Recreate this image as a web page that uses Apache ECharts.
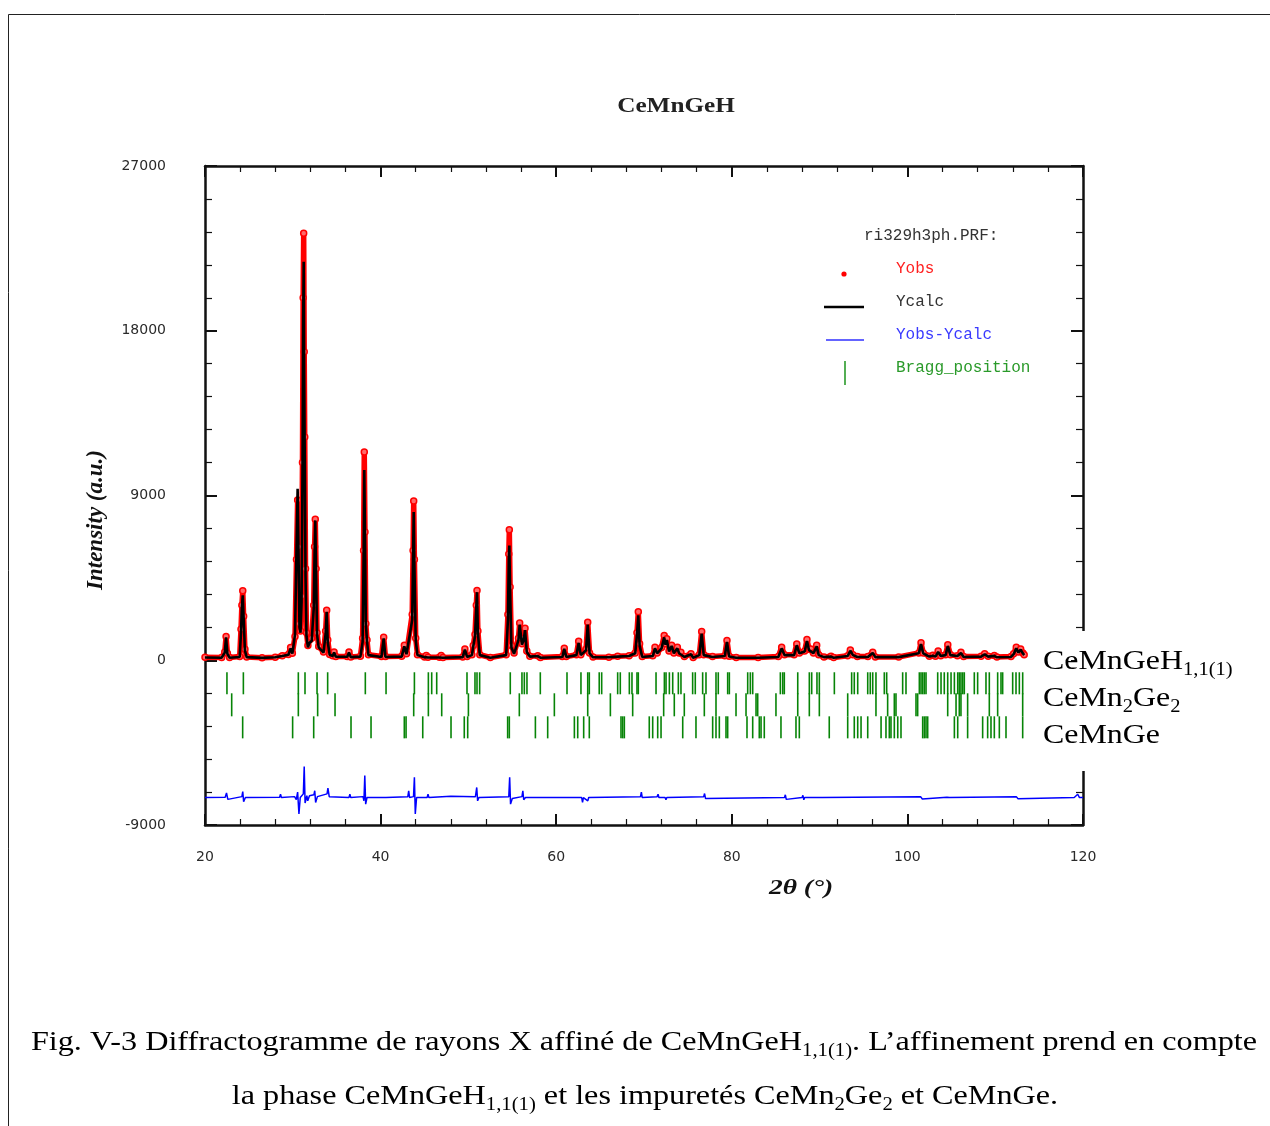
<!DOCTYPE html>
<html><head><meta charset="utf-8">
<script src="https://cdn.jsdelivr.net/npm/echarts@6/dist/echarts.min.js"></script>
<style>html,body{margin:0;padding:0;background:#fff}#chart{width:1270px;height:1126px}</style>
</head><body><div id="chart"></div>
<script>
// ---------- DATA ----------
const xTicks = [20, 40, 60, 80, 100, 120];
const yTicks = [-9000, 0, 9000, 18000, 27000];

// Profile sample points (2θ) with observed and calculated intensities
const twoTheta = [
  20.0,21.9,22.25,22.4,22.55,22.8,23.95,24.1,24.2,24.3,24.4,24.55,24.75,
  26.5,28.0,28.8,29.5,29.75,29.95,30.25,30.42,30.55,30.65,30.76,30.88,
  31.0,31.1,31.18,31.24,31.3,31.36,31.45,31.56,31.72,31.9,32.15,32.38,32.48,32.56,32.65,32.76,32.95,
  33.5,33.74,33.86,33.98,34.2,34.55,34.7,34.9,36.2,36.4,36.6,37.7,37.95,38.06,38.14,38.22,38.32,38.45,38.62,40.1,40.35,40.55,
  42.4,42.7,42.95,43.6,43.7,43.77,43.85,44.0,44.2,45.0,45.2,45.4,46.7,46.9,47.1,
  49.35,49.6,49.85,50.4,50.55,50.75,50.9,50.98,51.08,51.3,52.5,54.3,54.5,54.6,54.66,54.75,54.9,55.2,55.7,55.84,56.1,56.3,56.45,56.65,57.0,57.9,58.2,
  60.7,60.92,61.15,62.3,62.56,62.8,63.4,63.59,63.8,64.2,66.0,67.0,68.3,69.0,69.2,69.35,69.5,69.8,
  71.0,71.25,71.5,72.0,72.3,72.45,72.6,72.85,73.15,73.4,73.8,74.0,74.2,74.6,75.35,75.6,76.3,76.57,76.8,77.8,79.2,79.45,79.7,80.5,
  83.0,85.3,85.68,86.0,87.1,87.4,87.7,88.3,88.56,88.8,89.0,89.3,89.67,89.9,90.5,91.3,91.6,93.2,93.5,93.8,94.3,95.5,96.05,96.35,
  99.0,101.3,101.55,101.8,102.5,102.9,103.2,103.5,103.8,104.35,104.6,104.9,105.7,106.1,106.4,108.4,108.8,109.2,109.9,110.2,111.8,112.1,112.4,112.65,112.9,113.15,113.3
];
const yObs = [
  160,150,450,1300,380,150,200,1700,3000,3800,2400,600,180,
  140,170,250,320,700,380,1300,5500,8750,6200,2000,1600,
  3500,10800,19800,23320,16850,12200,5000,1500,800,1100,1200,3000,6200,7700,5000,1500,750,
  450,1600,2730,1100,320,250,450,200,200,450,180,220,1200,6000,11380,7000,2000,1100,300,200,1260,200,
  220,820,350,2500,6000,8700,5500,1200,300,180,260,160,160,260,150,
  180,620,200,300,800,1400,3000,3810,1600,300,150,300,2500,5800,7130,4000,800,400,1200,2040,900,1200,1750,500,220,250,150,
  200,660,200,300,1040,300,600,2080,400,180,170,220,250,400,1500,2650,900,200,
  250,710,400,700,1350,900,1170,500,820,400,710,400,440,200,350,150,300,1570,300,200,250,1080,220,150,
  150,200,710,300,300,890,400,500,1130,600,620,400,820,300,180,220,150,250,560,300,200,200,440,180,
  180,400,950,400,220,270,220,500,250,300,840,300,250,440,200,220,350,220,260,180,200,350,710,450,620,400,300
];
const yCalc = [
  150,140,420,1250,350,140,180,1500,2900,3550,2300,520,170,
  130,160,230,300,650,360,1400,6000,9370,5900,1800,1500,
  3200,10000,18500,21770,15600,11200,4600,1300,700,950,1050,2800,5800,7640,4800,1400,700,
  420,1450,2650,1000,300,230,420,190,190,420,170,200,1000,5500,10390,6800,2000,1050,280,180,1200,180,
  200,760,330,2200,5800,8100,5200,1100,280,170,240,150,150,240,140,
  170,580,180,280,750,1300,2900,3720,1500,280,140,280,2200,5500,6270,3800,700,350,1100,1950,850,1100,1650,450,200,230,140,
  180,620,180,280,950,280,550,1950,380,160,160,200,230,380,1400,2460,800,180,
  230,650,380,650,1250,850,1100,480,780,380,650,380,400,180,330,140,280,1450,280,180,230,1000,200,140,
  140,180,650,280,280,820,380,480,1050,550,580,380,760,280,170,200,140,230,520,280,180,180,400,170,
  170,380,880,380,200,250,200,460,230,280,780,280,230,400,180,200,330,200,240,160,180,330,650,420,580,380,280
];

// Difference curve (Yobs-Ycalc, drawn with the plot's offset)
const diffTheta = [
  20.0,22.3,22.45,22.6,22.8,24.2,24.3,24.4,24.6,28.5,28.6,28.7,30.2,30.4,30.55,30.7,30.85,31.2,31.3,31.4,31.6,31.7,31.9,
  32.4,32.5,32.6,32.8,33.9,34.0,34.15,34.3,36.4,36.5,36.6,38.0,38.1,38.2,38.3,38.45,40.6,40.7,40.8,
  43.1,43.2,43.3,43.75,43.85,43.95,44.1,45.3,45.4,45.5,48.0,48.1,50.8,50.95,51.05,51.2,
  54.6,54.7,54.8,55.0,56.1,56.2,56.3,56.5,62.9,63.0,63.1,63.6,63.7,69.6,69.7,69.8,71.5,71.6,71.7,72.4,72.5,72.6,
  76.8,76.9,77.0,77.2,86.0,86.1,86.2,86.3,88.0,88.1,88.2,88.3,90.0,90.1,90.2,90.3,
  101.5,101.6,101.7,101.8,104.5,104.6,104.7,104.8,112.4,112.5,112.6,112.7,119.0,119.4,119.6,120.0
];
const diffValues = [
  -7500,-7480,-7250,-7600,-7500,-7450,-7180,-7730,-7500,-7480,-7320,-7500,-7450,-7620,-7200,-8400,-7500,-7300,-5800,-7800,-7400,-7680,-7400,
  -7350,-7130,-7770,-7450,-7300,-6990,-7450,-7500,-7500,-7320,-7500,-7450,-7680,-6300,-7860,-7500,-7500,-7400,-7500,
  -7450,-7130,-7500,-7450,-6390,-8400,-7500,-7500,-7320,-7500,-7430,-7500,-7450,-6950,-7680,-7500,
  -7450,-6390,-7860,-7550,-7450,-7130,-7620,-7500,-7500,-7770,-7500,-7680,-7500,-7450,-7200,-7500,-7450,-7320,-7500,-7500,-7620,-7500,
  -7450,-7280,-7550,-7500,-7500,-7350,-7600,-7500,-7500,-7380,-7620,-7500,-7500,-7400,-7580,-7500,
  -7450,-7380,-7580,-7500,-7480,-7400,-7560,-7500,-7450,-7380,-7560,-7500,-7500,-7320,-7500,-7500
];

// Bragg reflection positions (2θ) for the three phases
const braggCeMnGeH = [
  22.5,24.37,30.63,31.39,32.76,33.97,38.26,40.62,43.85,45.44,45.82,46.39,49.84,50.75,50.98,51.28,54.77,56.1,56.37,56.67,
  58.19,61.23,62.82,63.59,63.77,64.9,65.18,67.0,67.3,68.33,68.63,69.2,69.35,71.37,72.32,72.51,72.89,73.27,73.91,74.21,
  75.54,75.84,76.68,77.06,78.2,78.46,79.53,79.72,81.81,82.11,82.38,85.53,85.8,85.98,87.51,88.83,89.1,89.7,89.97,91.68,
  93.65,93.95,94.34,95.48,95.77,96.05,96.42,97.37,97.64,99.46,99.84,101.36,101.55,101.74,101.93,102.12,103.45,103.83,
  104.2,104.59,104.97,105.35,105.73,105.91,106.1,106.3,106.48,107.62,108.0,108.95,109.33,110.28,110.66,110.85,111.99,
  112.37,112.75,113.13
];
const braggCeMn2Ge2 = [
  23.04,30.63,32.83,34.81,43.77,45.44,46.96,50.0,55.8,59.79,63.59,66.17,68.71,72.24,73.45,74.59,76.87,78.2,80.48,81.62,
  82.76,82.95,85.03,87.51,88.83,89.97,93.2,96.42,97.75,98.51,98.7,100.98,101.17,104.59,105.54,105.91,106.1,106.86,
  109.33,110.28,113.13
];
const braggCeMnGe = [
  24.29,29.98,32.38,36.63,38.91,42.7,42.9,44.8,48.02,49.53,49.92,54.47,54.66,57.63,59.03,62.07,62.45,63.13,63.77,
  67.38,67.57,67.76,70.6,70.99,71.56,71.94,74.41,75.92,77.82,78.2,78.58,79.34,79.53,81.73,82.38,83.13,83.33,83.7,
  85.6,87.31,87.69,91.1,93.2,93.95,94.34,94.72,95.48,97.0,97.56,97.94,98.13,98.51,98.9,99.27,101.74,101.93,102.12,
  102.31,105.35,105.73,106.86,108.57,109.14,109.52,109.9,110.47,111.23,113.13
];

// ---------- BUILD ----------
if (twoTheta.length !== yObs.length || twoTheta.length !== yCalc.length) console.error('profile length mismatch', twoTheta.length, yObs.length, yCalc.length);
if (diffTheta.length !== diffValues.length) console.error('diff length mismatch', diffTheta.length, diffValues.length);

const obsData = twoTheta.map((x, i) => [x, yObs[i]]);
const calcData = twoTheta.map((x, i) => [x, yCalc[i]]);
const diffData = diffTheta.map((x, i) => [x, diffValues[i]]);

// vertical extent (intensity units) of each Bragg tick row
const rowExtent = [[-656, -1860], [-1805, -3063], [-3063, -4267]];
const braggData = [];
[braggCeMnGeH, braggCeMn2Ge2, braggCeMnGe].forEach((list, r) => {
  list.forEach(x => braggData.push([x, rowExtent[r][0], rowExtent[r][1]]));
});

const axisColor = '#111';
const tickLabel = { fontFamily: 'DejaVu Sans', fontSize: 14, color: '#2a2a2a', formatter: v => String(v) };

const serif = 'Liberation Serif';
const richSub = (size) => ({ s: { fontFamily: serif, fontSize: Math.round(size * 0.66), lineHeight: Math.round(size * 0.66), padding: [Math.round(size * 0.6), 0, 0, 0], fill: '#000' } });

function txt(x, y, text, opts) {
  return Object.assign({
    type: 'text', x: x, y: y, z: 110,
    style: Object.assign({ text: text, align: opts.align || 'left', textAlign: opts.align || 'left', verticalAlign: 'middle', textVerticalAlign: 'middle' }, opts.style)
  }, opts.el || {});
}

const capSize = 28;
const labSize = 28;

function mirrorX(pos, showLabel) {
  return {
    type: 'value', min: xTicks[0], max: xTicks[xTicks.length - 1], interval: 20, position: pos,
    axisLine: { show: true, onZero: false, lineStyle: { color: axisColor, width: 2.5 } },
    axisTick: { show: true, inside: true, length: 11, lineStyle: { color: axisColor, width: 2 } },
    minorTick: { show: true, splitNumber: 5, length: 6, lineStyle: { color: axisColor, width: 1.2 } },
    axisLabel: showLabel ? Object.assign({ margin: 25 }, tickLabel) : { show: false },
    splitLine: { show: false }, minorSplitLine: { show: false }
  };
}
function mirrorY(pos, showLabel) {
  return {
    type: 'value', min: yTicks[0], max: yTicks[yTicks.length - 1], interval: 9000, position: pos,
    axisLine: { show: true, onZero: false, lineStyle: { color: axisColor, width: 2.5 } },
    axisTick: { show: true, inside: true, length: 12, lineStyle: { color: axisColor, width: 2 } },
    minorTick: { show: true, splitNumber: 5, length: 7, lineStyle: { color: axisColor, width: 1.2 } },
    axisLabel: showLabel ? Object.assign({ margin: 39 }, tickLabel) : { show: false },
    splitLine: { show: false }, minorSplitLine: { show: false }
  };
}

const option = {
  animation: false,
  backgroundColor: '#ffffff',
  grid: { left: 205, right: 187, top: 166, bottom: 301, containLabel: false },
  xAxis: [mirrorX('bottom', true), mirrorX('top', false)],
  yAxis: [mirrorY('left', true), mirrorY('right', false)],
  series: [
    {
      name: 'Bragg_position', type: 'custom', z: 2, silent: true,
      data: braggData, encode: { x: 0, y: [1, 2] },
      renderItem: function (params, api) {
        const a = api.coord([api.value(0), api.value(1)]);
        const b = api.coord([api.value(0), api.value(2)]);
        return { type: 'line', shape: { x1: a[0], y1: a[1], x2: b[0], y2: b[1] }, style: { stroke: '#078407', lineWidth: 1.6 } };
      }
    },
    {
      name: 'Yobs-Ycalc', type: 'line', z: 3, silent: true, data: diffData,
      showSymbol: false, lineStyle: { color: '#0000ff', width: 1.5 }
    },
    {
      name: 'Yobs', type: 'line', z: 4, silent: true, data: obsData,
      showSymbol: true, showAllSymbol: true, symbol: 'circle', symbolSize: 6,
      itemStyle: { color: '#ff6a6a', borderColor: '#ff0000', borderWidth: 1.5 },
      lineStyle: { color: '#ff0000', width: 5.5 }
    },
    {
      name: 'Ycalc', type: 'line', z: 5, silent: true, data: calcData,
      showSymbol: false, lineStyle: { color: '#000000', width: 2.6 }
    }
  ],
  graphic: [
    // page frame
    { type: 'rect', z: 1, shape: { x: 8.5, y: 14.5, width: 1400, height: 1300 }, style: { fill: 'none', stroke: '#222', lineWidth: 1 } },
    // gap in the right frame behind the phase labels
    { type: 'rect', z: 100, shape: { x: 1076, y: 631, width: 14, height: 140 }, style: { fill: '#ffffff' } },
    // title
    txt(676, 107, 'CeMnGeH', { align: 'center', style: { fontFamily: serif, fontWeight: 'bold', fontSize: 21, fill: '#222' }, el: { scaleX: 1.2 } }),
    // axis names
    txt(96, 520, 'Intensity (a.u.)', { align: 'center', style: { fontFamily: serif, fontWeight: 'bold', fontStyle: 'italic', fontSize: 23, fill: '#111' }, el: { rotation: Math.PI / 2 } }),
    txt(801, 888, '2θ (°)', { align: 'center', style: { fontFamily: serif, fontWeight: 'bold', fontStyle: 'italic', fontSize: 22, fill: '#111' }, el: { scaleX: 1.25 } }),
    // legend
    txt(864, 236, 'ri329h3ph.PRF:', { style: { fontFamily: 'Liberation Mono', fontSize: 16, fill: '#333' } }),
    { type: 'circle', z: 110, shape: { cx: 844, cy: 274, r: 2.6 }, style: { fill: '#ff0000' } },
    txt(896, 269, 'Yobs', { style: { fontFamily: 'Liberation Mono', fontSize: 16, fill: '#ff2020' } }),
    { type: 'line', z: 110, shape: { x1: 824, y1: 307, x2: 864, y2: 307 }, style: { stroke: '#000', lineWidth: 2.5 } },
    txt(896, 302, 'Ycalc', { style: { fontFamily: 'Liberation Mono', fontSize: 16, fill: '#333' } }),
    { type: 'line', z: 110, shape: { x1: 826, y1: 340, x2: 864, y2: 340 }, style: { stroke: '#3030ff', lineWidth: 1.5 } },
    txt(896, 335, 'Yobs-Ycalc', { style: { fontFamily: 'Liberation Mono', fontSize: 16, fill: '#3a3aff' } }),
    { type: 'line', z: 110, shape: { x1: 845, y1: 361, x2: 845, y2: 385 }, style: { stroke: '#2a9a2a', lineWidth: 1.6 } },
    txt(896, 368, 'Bragg_position', { style: { fontFamily: 'Liberation Mono', fontSize: 16, fill: '#2a9a2a' } }),
    // phase labels
    txt(1043, 662, 'CeMnGeH{s|1,1(1)}', { style: { fontFamily: serif, fontSize: labSize, fill: '#000', rich: richSub(labSize) }, el: { scaleX: 1.14 } }),
    txt(1043, 699, 'CeMn{s|2}Ge{s|2}', { style: { fontFamily: serif, fontSize: labSize, fill: '#000', rich: richSub(labSize) }, el: { scaleX: 1.14 } }),
    txt(1043, 736, 'CeMnGe', { style: { fontFamily: serif, fontSize: labSize, fill: '#000' }, el: { scaleX: 1.14 } }),
    // caption
    txt(644, 1043, 'Fig. V-3 Diffractogramme de rayons X affiné de CeMnGeH{s|1,1(1)}. L’affinement prend en compte', { align: 'center', style: { fontFamily: serif, fontSize: capSize, fill: '#000', rich: richSub(capSize) }, el: { scaleX: 1.15 } }),
    txt(645, 1097, 'la phase CeMnGeH{s|1,1(1)} et les impuretés CeMn{s|2}Ge{s|2} et CeMnGe.', { align: 'center', style: { fontFamily: serif, fontSize: capSize, fill: '#000', rich: richSub(capSize) }, el: { scaleX: 1.15 } })
  ]
};

const chart = echarts.init(document.getElementById('chart'), null, { renderer: 'canvas' });
chart.setOption(option);
</script></body></html>
